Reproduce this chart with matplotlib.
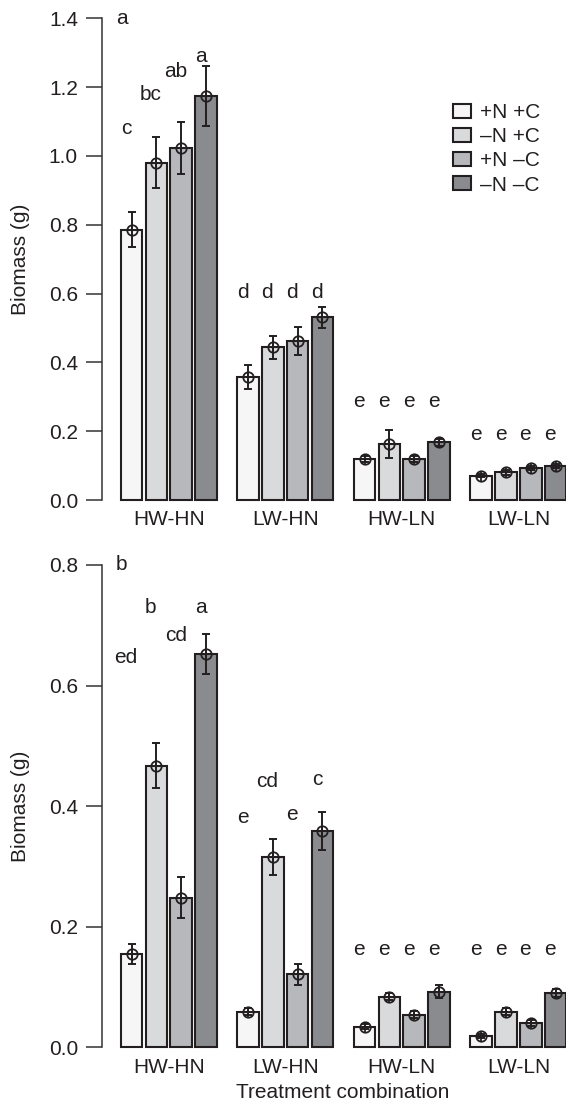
import numpy as np
import matplotlib
matplotlib.use("Agg")
from matplotlib import pyplot as plt
from matplotlib.patches import Patch

plt.rcParams['font.family'] = ['Liberation Sans', 'DejaVu Sans']

groups = ['HW-HN', 'LW-HN', 'HW-LN', 'LW-LN']
treatments = ['+N +C', '\u2013N +C', '+N \u2013C', '\u2013N \u2013C']
colors = ['#f6f6f6', '#d9dadc', '#b7b8bb', '#8a8b8e']

# panel a: rows = groups, columns = treatments
mean_a = [[0.786, 0.980, 1.023, 1.174],
          [0.358, 0.444, 0.461, 0.531],
          [0.119, 0.163, 0.119, 0.168],
          [0.071, 0.080, 0.092, 0.099]]
se_a = [[0.052, 0.074, 0.075, 0.087],
        [0.035, 0.033, 0.041, 0.030],
        [0.008, 0.040, 0.008, 0.010],
        [0.005, 0.006, 0.006, 0.006]]
letters_a = [['c', 'bc', 'ab', 'a'],
             ['d', 'd', 'd', 'd'],
             ['e', 'e', 'e', 'e'],
             ['e', 'e', 'e', 'e']]
letter_y_a = [[1.08, 1.178, 1.244, 1.288],
              [0.602, 0.602, 0.602, 0.602],
              [0.285, 0.285, 0.285, 0.285],
              [0.189, 0.189, 0.189, 0.189]]

# panel b
mean_b = [[0.155, 0.467, 0.248, 0.653],
          [0.059, 0.315, 0.121, 0.359],
          [0.034, 0.084, 0.054, 0.092],
          [0.019, 0.059, 0.041, 0.090]]
se_b = [[0.016, 0.037, 0.034, 0.033],
        [0.006, 0.030, 0.018, 0.031],
        [0.004, 0.006, 0.006, 0.011],
        [0.003, 0.006, 0.005, 0.006]]
letters_b = [['ed', 'b', 'cd', 'a'],
             ['e', 'cd', 'e', 'c'],
             ['e', 'e', 'e', 'e'],
             ['e', 'e', 'e', 'e']]
letter_y_b = [[0.646, 0.729, 0.683, 0.730],
              [0.382, 0.441, 0.386, 0.444],
              [0.163, 0.163, 0.163, 0.163],
              [0.163, 0.163, 0.163, 0.163]]

W, H = 566, 1107
fig = plt.figure(figsize=(W / 100, H / 100), dpi=100)
FS = 15
edge = '#231f20'
gpitch = 4.7
bw = 0.87
xlo, xhi = -1.21, 17.52


def panel(rect, means, ses, letters, ly, ymax, step, tag):
    ax = fig.add_axes(rect)
    means = np.array(means)
    ses = np.array(ses)
    for g in range(len(groups)):
        x = g * gpitch + np.arange(4)
        ax.bar(x, means[g], width=bw, color=colors, edgecolor=edge,
               linewidth=1.5, zorder=2, clip_on=False)
        ax.errorbar(x, means[g], yerr=ses[g], fmt='none', ecolor=edge,
                    elinewidth=1.4, capsize=3.2, capthick=1.4, zorder=3,
                    clip_on=False)
        ax.plot(x, means[g], 'o', ms=7.5, mfc='none', mec=edge, mew=1.3,
                zorder=4, clip_on=False)
        ax.plot(x, means[g], '+', ms=7.5, mec=edge, mew=1.3, zorder=4,
                clip_on=False)
        for i in range(4):
            ax.text(x[i] - 0.22, ly[g][i], letters[g][i], fontsize=FS,
                    ha='center', va='center', color='#231f20')
    ax.text(-0.4, ymax, tag, fontsize=FS, ha='center', va='center',
            color='#231f20')
    ax.set_xlim(xlo, xhi)
    ax.set_ylim(0, ymax)
    ax.set_yticks(np.arange(0, ymax + 1e-9, step))
    ax.set_yticklabels(['%.1f' % v for v in np.arange(0, ymax + 1e-9, step)])
    ax.set_xticks([g * gpitch + 1.5 for g in range(len(groups))])
    ax.set_xticklabels(groups)
    for s in ['top', 'right', 'bottom']:
        ax.spines[s].set_visible(False)
    ax.spines['left'].set_color('#333333')
    ax.spines['left'].set_linewidth(1.1)
    ax.tick_params(axis='y', length=11.5, width=1.1, color='#333333',
                   pad=5.5, labelsize=FS, labelcolor='#231f20')
    ax.tick_params(axis='x', length=0, pad=7.5, labelsize=FS,
                   labelcolor='#231f20')
    return ax


ax1 = panel([101.5 / W, 1 - 500 / H, 1 - 101.5 / W, (500 - 18.3) / H],
            mean_a, se_a, letters_a, letter_y_a, 1.4, 0.2, 'a')
ax2 = panel([101.5 / W, 1 - 1047.3 / H, 1 - 101.5 / W, (1047.3 - 565) / H],
            mean_b, se_b, letters_b, letter_y_b, 0.8, 0.2, 'b')

fig.text(21 / W, 1 - 259 / H, 'Biomass (g)', rotation=90, fontsize=FS,
         ha='center', va='center', color='#231f20')
fig.text(21 / W, 1 - 806 / H, 'Biomass (g)', rotation=90, fontsize=FS,
         ha='center', va='center', color='#231f20')
fig.text(343 / W, 1 - 1093 / H, 'Treatment combination', fontsize=FS,
         ha='center', va='center', color='#231f20')

handles = [Patch(facecolor=c, edgecolor=edge, linewidth=1.5) for c in colors]
ax1.legend(handles, treatments, loc='upper left',
           bbox_to_anchor=(453 / W, 1 - 103 / H), bbox_transform=fig.transFigure,
           frameon=False, fontsize=FS, handlelength=0.85, handleheight=0.65,
           handletextpad=0.45, labelspacing=0.25, borderpad=0, borderaxespad=0,
           labelcolor='#231f20')

fig.savefig('out.png', dpi=100)
